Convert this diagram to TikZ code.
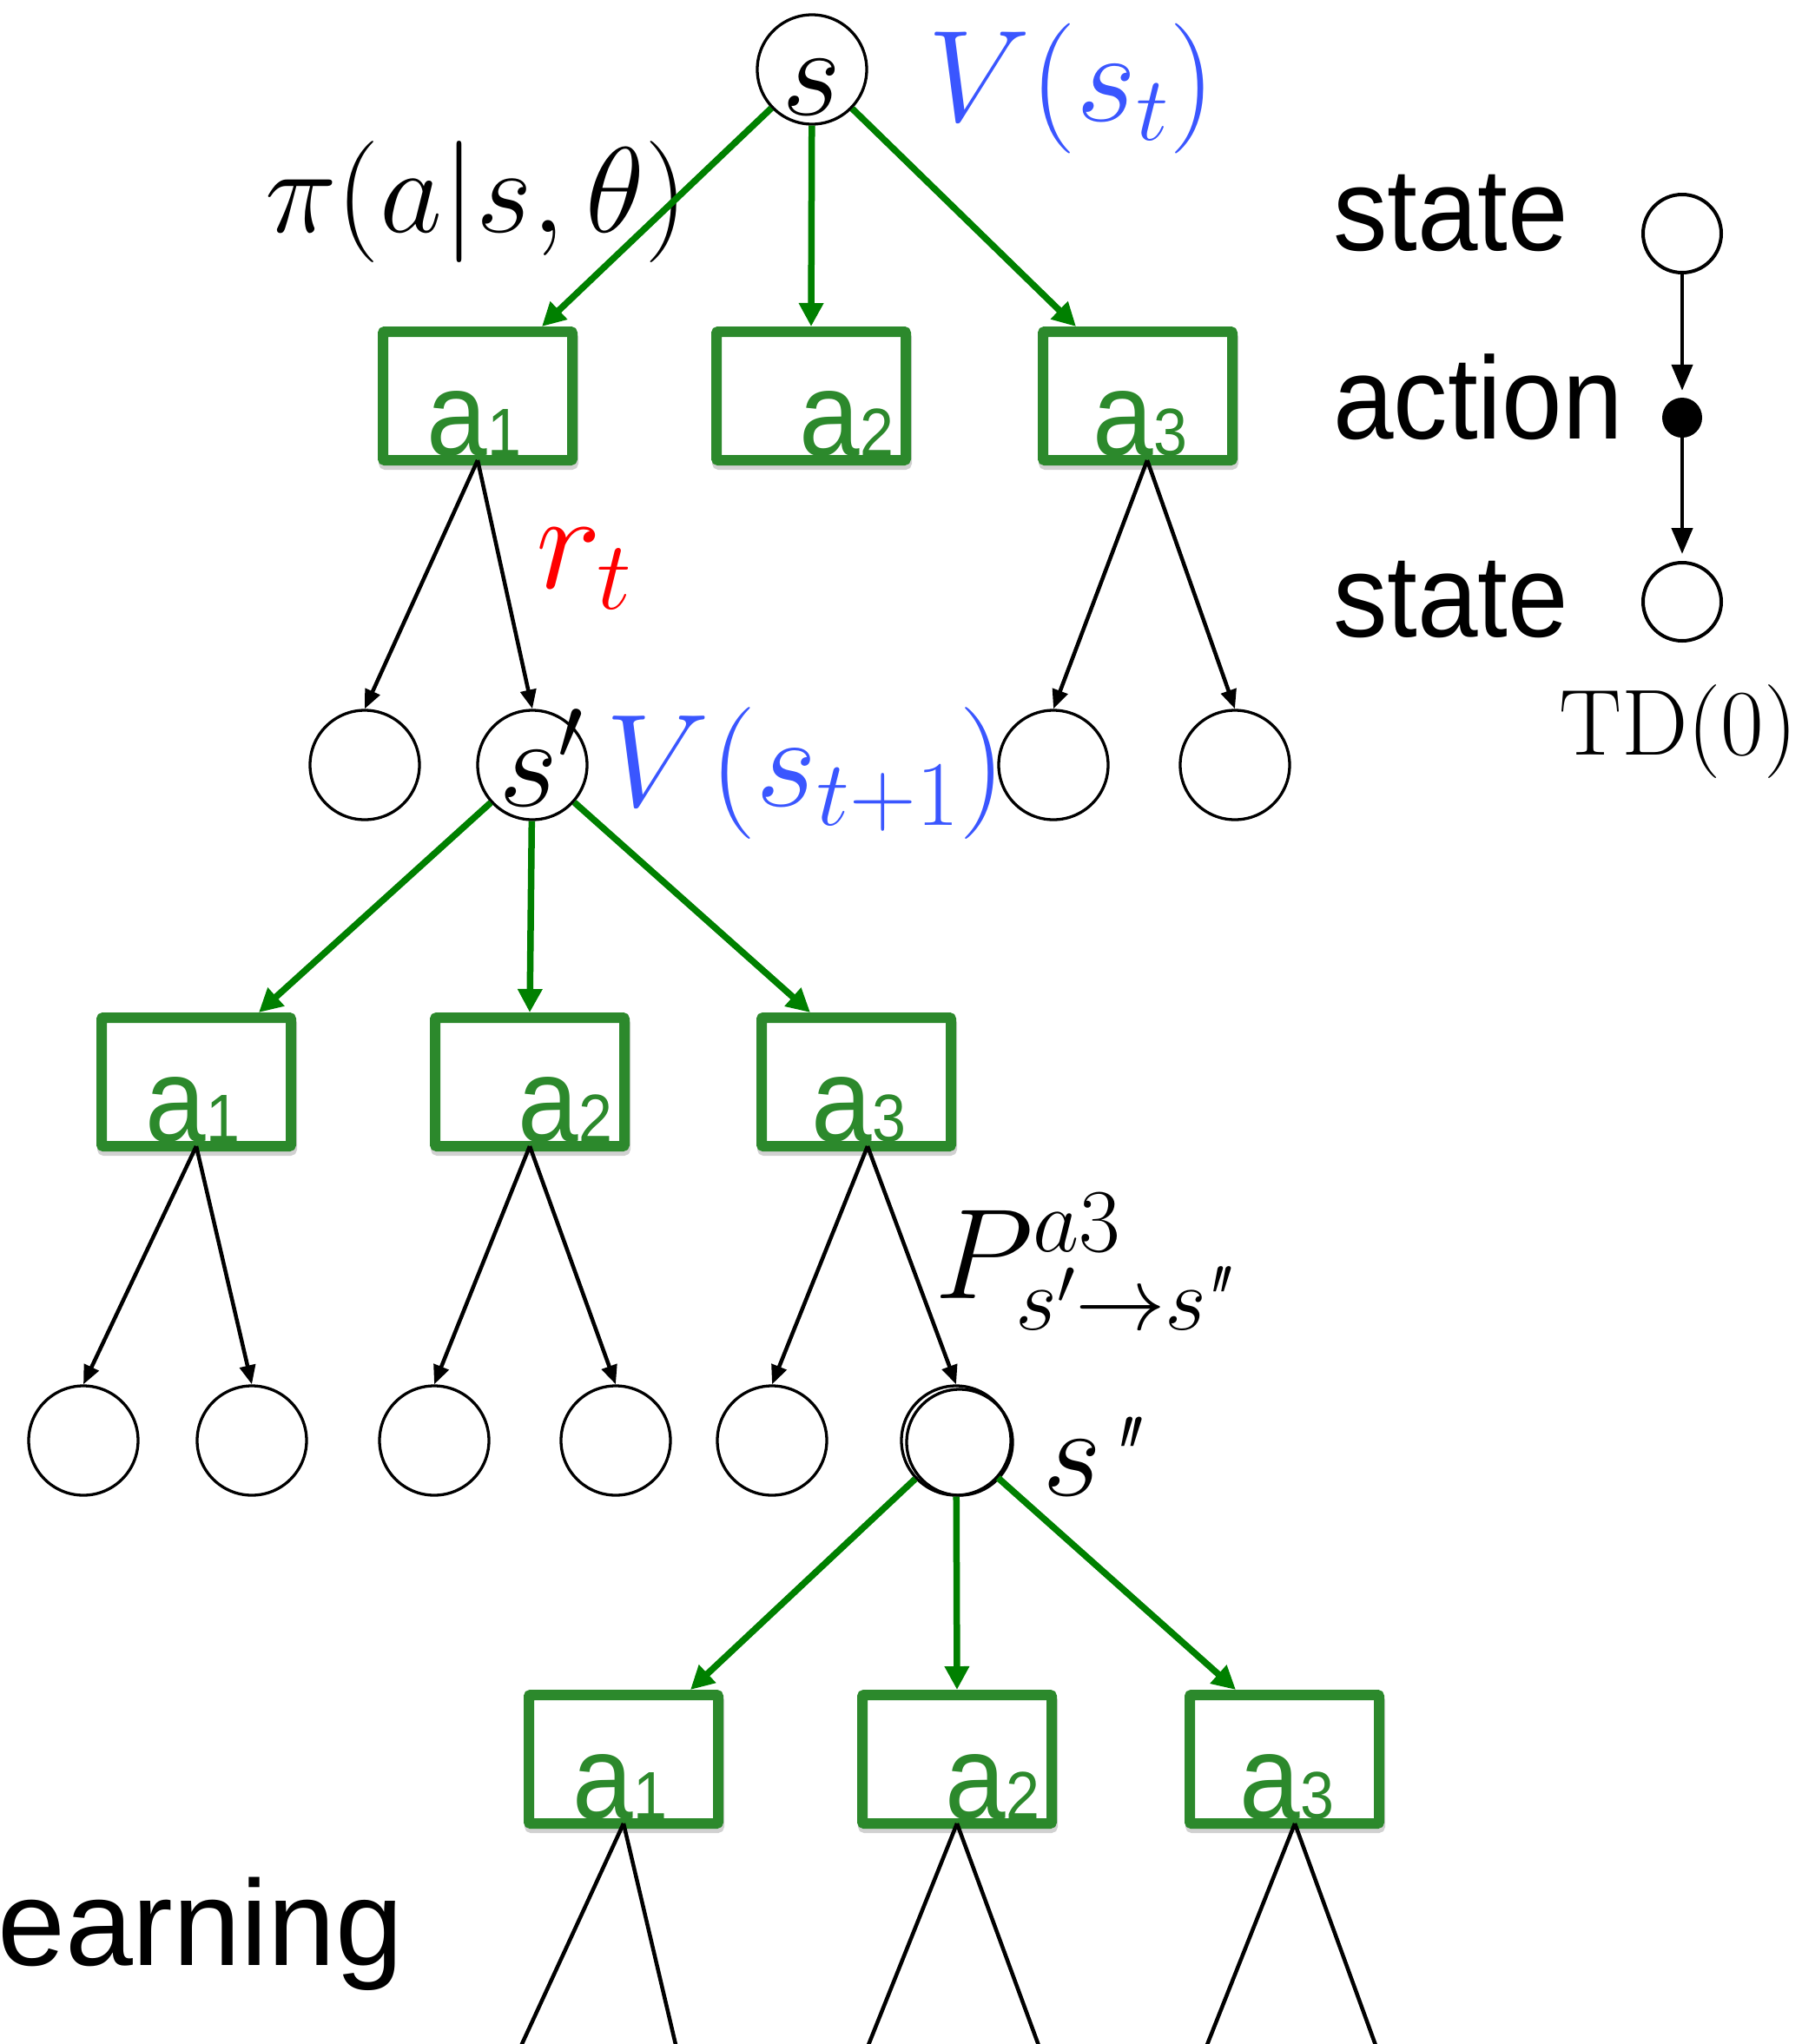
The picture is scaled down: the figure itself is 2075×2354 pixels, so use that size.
\documentclass[tikz,border=0pt]{standalone}
\usepackage{fix-cm}
\usepackage{amsmath}
\usepackage{graphicx}
\usepackage{fontspec}
\setsansfont{Liberation Sans}
% a family without TeX ligature mapping, so that " stays a straight quote
\newfontfamily\quotefont{Latin Modern Roman}
\usetikzlibrary{arrows.meta}

\definecolor{boxgreen}{RGB}{44,137,44}
\definecolor{edgegreen}{RGB}{0,128,0}
\definecolor{valblue}{RGB}{58,86,255}
\definecolor{rwdred}{RGB}{255,0,0}

\newcommand\bigsize[1]{\fontsize{#1}{#1}\selectfont}
\newcommand\actlabel[1]{\scalebox{1}[1.1]{\bigsize{125}a\bigsize{70}#1}}
\newcommand\legendword[1]{\scalebox{1}[1.08]{#1}}
\newcommand\dq{\text{\quotefont\itshape "}}

\tikzset{
  statenode/.style={circle, draw=black, line width=3.3pt, minimum size=126pt, inner sep=0pt, fill=white},
  actbox/.style={rectangle, draw=boxgreen, line width=12pt, fill=white, rounded corners=2pt,
                 minimum width=218pt, minimum height=148pt, inner sep=0pt,
                 preaction={draw=black, opacity=0.18, line width=12pt,
                            transform canvas={xshift=1pt,yshift=-5pt}}},
  boxtext/.style={inner sep=0pt, anchor=base, text=boxgreen, font=\sffamily},
  policyedge/.style={draw=edgegreen, line width=7.5pt, -{Triangle[length=27pt,width=27pt]}},
  transedge/.style={draw=black, line width=4.5pt, -{Triangle[length=22pt,width=18pt]}},
  openedge/.style={draw=black, line width=4.5pt},
  lbl/.style={inner sep=0pt, anchor=base west},
  legendtext/.style={inner sep=0pt, anchor=base west, font=\sffamily\bigsize{125}},
  legendstate/.style={circle, draw=black, line width=4pt, minimum size=90pt, inner sep=0pt},
  legendaction/.style={circle, fill=black, minimum size=46pt, inner sep=0pt},
  legendedge/.style={draw=black, line width=4.5pt, -{Triangle[length=30pt,width=24pt]}},
}

\begin{document}
\begin{tikzpicture}[x=1pt,y=-1pt]
\path[use as bounding box] (0,0) rectangle (2075,2354);
\clip (0,0) rectangle (2075,2354);

% ---------- root state ----------
\node[statenode] (s) at (935,80) {};
\node[lbl, anchor=base] (sname) at ([yshift=-52pt]s.center) {\bigsize{148}$s$};
\node[lbl, text=valblue] (vst) at (1068,139) {\bigsize{150}$V(s_t)$};
\node[lbl] (pol) at (305,267) {\bigsize{140}$\pi(a|s,\theta)$};

% ---------- first actions ----------
\node[actbox] (a1) at (550,456) {};
\node[actbox] (a2) at (934,456) {};
\node[actbox] (a3) at (1310,456) {};
\node[boxtext] (a1t) at ([xshift=-4pt,yshift=12pt]a1.south) {\actlabel{1}};
\node[boxtext] (a2t) at ([xshift=41pt,yshift=12pt]a2.south) {\actlabel{2}};
\node[boxtext] (a3t) at ([xshift=3pt,yshift=12pt]a3.south) {\actlabel{3}};

\draw[policyedge] (s) -- ([xshift=-41pt]a1.north east);
\draw[policyedge] (s) -- (a2.north);
\draw[policyedge] (s) -- ([xshift=44pt]a3.north west);

% ---------- successor states ----------
\node[statenode] (c1) at (420,881) {};
\node[statenode] (sp) at (613,881) {};
\node[statenode] (c3) at (1213,881) {};
\node[statenode] (c4) at (1422,881) {};
\node[lbl] (spname) at (574,928) {\bigsize{148}$s'$};

\draw[transedge] ([yshift=6pt]a1.south) -- (c1.north);
\draw[transedge] ([yshift=6pt]a1.south) -- (sp.north);
\draw[transedge] ([xshift=11pt,yshift=6pt]a3.south) -- (c3.north);
\draw[transedge] ([xshift=11pt,yshift=6pt]a3.south) -- (c4.north);

\node[lbl, text=rwdred] (rt) at (617,677) {\bigsize{160}$r_t$};
\node[lbl, text=valblue] (vst1) at (697,928) {\bigsize{152}$V(s_{t+1})$};

% ---------- actions from s' ----------
\node[actbox] (b1) at (226,1246) {};
\node[actbox] (b2) at (610,1246) {};
\node[actbox] (b3) at (986,1246) {};
\node[boxtext] (b1t) at ([xshift=-4pt,yshift=12pt]b1.south) {\actlabel{1}};
\node[boxtext] (b2t) at ([xshift=41pt,yshift=12pt]b2.south) {\actlabel{2}};
\node[boxtext] (b3t) at ([xshift=3pt,yshift=12pt]b3.south) {\actlabel{3}};

\draw[policyedge] (sp) -- ([xshift=-43pt]b1.north east);
\draw[policyedge] (sp) -- (b2.north);
\draw[policyedge] (sp) -- ([xshift=62pt]b3.north west);

% ---------- states after s' ----------
\node[statenode] (d1) at (96,1659) {};
\node[statenode] (d2) at (290,1659) {};
\node[statenode] (d3) at (500,1659) {};
\node[statenode] (d4) at (709,1659) {};
\node[statenode] (d5) at (889,1659) {};
\node[statenode] (spp) at (1101,1659) {};
\node[statenode, fill=none, minimum size=122pt] (spp2) at (1105,1661) {};

\draw[transedge] ([yshift=6pt]b1.south) -- (d1.north);
\draw[transedge] ([yshift=6pt]b1.south) -- (d2.north);
\draw[transedge] ([yshift=6pt]b2.south) -- (d3.north);
\draw[transedge] ([yshift=6pt]b2.south) -- (d4.north);
\draw[transedge] ([xshift=13pt,yshift=6pt]b3.south) -- (d5.north);
\draw[transedge] ([xshift=13pt,yshift=6pt]b3.south) -- (spp.north);

\node[lbl] (trans) at (1076,1495) {\bigsize{148}$P^{a3}_{s'\to s\!\dq}$};
\node[lbl] (sppname) at (1200,1722)
  {\bigsize{148}$s$\hspace{-6pt}\raisebox{6pt}{\bigsize{120}\quotefont\itshape "}};

% ---------- actions from s'' ----------
\node[actbox] (e1) at (718,2026) {};
\node[actbox] (e2) at (1102,2026) {};
\node[actbox] (e3) at (1479,2026) {};
\node[boxtext] (e1t) at ([xshift=-4pt,yshift=12pt]e1.south) {\actlabel{1}};
\node[boxtext] (e2t) at ([xshift=41pt,yshift=12pt]e2.south) {\actlabel{2}};
\node[boxtext] (e3t) at ([xshift=3pt,yshift=12pt]e3.south) {\actlabel{3}};

\draw[policyedge] (spp) -- ([xshift=-38pt]e1.north east);
\draw[policyedge] (spp) -- (e2.north);
\draw[policyedge] (spp) -- ([xshift=59pt]e3.north west);

\coordinate (e1l) at (589,2380);
\coordinate (e1r) at (784,2380);
\coordinate (e2l) at (990,2380);
\coordinate (e2r) at (1205,2380);
\coordinate (e3l) at (1380,2380);
\coordinate (e3r) at (1593,2380);
\draw[openedge] ([yshift=6pt]e1.south) -- (e1l);
\draw[openedge] ([yshift=6pt]e1.south) -- (e1r);
\draw[openedge] ([yshift=6pt]e2.south) -- (e2l);
\draw[openedge] ([yshift=6pt]e2.south) -- (e2r);
\draw[openedge] ([xshift=12pt,yshift=6pt]e3.south) -- (e3l);
\draw[openedge] ([xshift=12pt,yshift=6pt]e3.south) -- (e3r);

\node[lbl, font=\sffamily\bigsize{140}] (learn) at (-3,2263) {earning};

% ---------- legend ----------
\node[legendstate] (ls1) at (1937,269) {};
\node[legendaction] (la) at (1937,481) {};
\node[legendstate] (ls2) at (1937,693) {};
\draw[legendedge, shorten >=8pt] (ls1) -- (la);
\draw[legendedge, shorten >=8pt] (la) -- (ls2);
\node[legendtext] (lst1) at (1535,288) {\legendword{state}};
\node[legendtext] (lact) at (1535,505) {\legendword{action}};
\node[legendtext] (lst2) at (1535,733) {\legendword{state}};
\node[lbl] (td) at (1795,869) {\bigsize{108}TD(0)};
\end{tikzpicture}
\end{document}
